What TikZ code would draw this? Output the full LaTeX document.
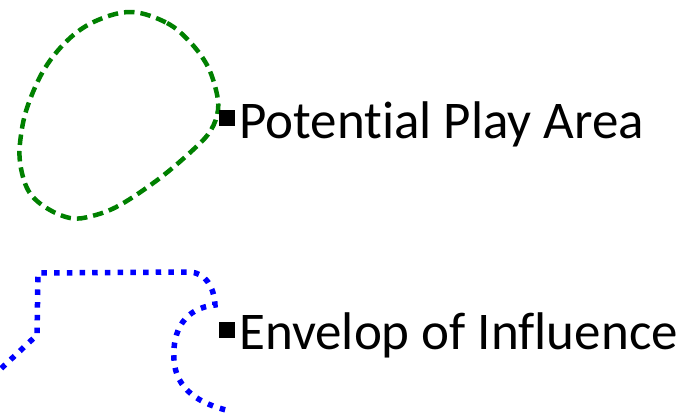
\documentclass[tikz,border=0pt]{standalone}
\usepackage{fontspec}
\setmainfont[Ligatures={NoCommon}]{Carlito}
\begin{document}
\begin{tikzpicture}[x=1pt,y=-1pt,
  playarea/.style={draw={rgb,255:red,0;green,128;blue,0},line width=4.5pt,dash pattern=on 10.5pt off 6pt},
  envelope/.style={draw={rgb,255:red,0;green,0;blue,255},line width=5.5pt,dash pattern=on 5.5pt off 7.2pt},
  bulletbox/.style={rectangle,fill=black,inner sep=0pt,minimum size=16pt},
  label/.style={inner sep=0pt,anchor=base west,font=\fontsize{53}{60}\selectfont}]
\useasboundingbox (0,0) rectangle (687,413);
\path[playarea] plot[smooth cycle,tension=0.6] coordinates {(132,12) (167,23) (190,42) (207,65) (216,90) (218,110) (211,130) (195,148) (160,178) (120,205) (92,216) (70,218) (45,207) (28,190) (20,162) (21,135) (28,105) (45,68) (70,38) (98,20)};
\path[envelope] (-8,377) -- (37,335) -- (38,273) -- (190,272)
  .. controls (205,273) and (214,286) .. (215,305)
  .. controls (185,308) and (172,330) .. (174,360)
  .. controls (176,390) and (200,404) .. (230,411);
\node[bulletbox] (b1) at (227,118) {};
\node[bulletbox] (b2) at (227,330) {};
\node[label] (t1) at (239,138) {Potential Play Area};
\node[label] (t2) at (239,349) {Envelop of Influence};
\end{tikzpicture}
\end{document}
